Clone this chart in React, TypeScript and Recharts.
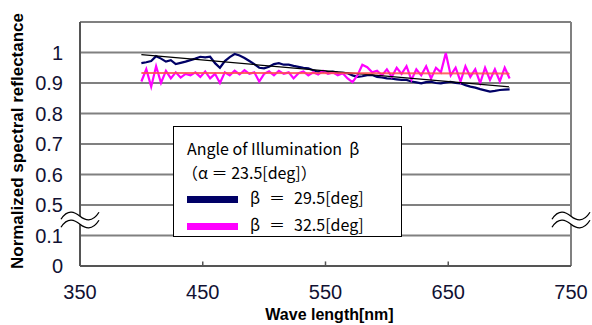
import React from 'react';
import {
  LineChart,
  Line,
  XAxis,
  YAxis,
  CartesianGrid,
  ReferenceLine,
  ReferenceDot
} from 'recharts';

// wavelength [nm]
const WAVELENGTHS = [
  400, 404, 408, 412, 416, 420, 424, 428, 432, 436, 440, 444, 448, 452, 456, 460, 464, 468, 472, 476,
  480, 484, 488, 492, 496, 500, 504, 508, 512, 516, 520, 524, 528, 532, 536, 540, 544, 548, 552, 556,
  560, 564, 568, 572, 576, 580, 584, 588, 592, 596, 600, 604, 608, 612, 616, 620, 624, 628, 632, 636,
  640, 644, 648, 652, 656, 660, 664, 668, 672, 676, 680, 684, 688, 692, 696, 700
];

// beta = 29.5 deg
const BETA_295 = [
  0.965, 0.968, 0.972, 0.988, 0.980, 0.970, 0.975, 0.962, 0.966, 0.970, 0.975, 0.980, 0.986, 0.984, 0.986, 0.965, 0.950, 0.972, 0.985, 0.995,
  0.990, 0.982, 0.972, 0.962, 0.950, 0.948, 0.953, 0.962, 0.965, 0.960, 0.960, 0.956, 0.953, 0.950, 0.948, 0.942, 0.937, 0.938, 0.936, 0.937,
  0.934, 0.933, 0.932, 0.925, 0.920, 0.922, 0.926, 0.926, 0.920, 0.918, 0.915, 0.914, 0.912, 0.910, 0.910, 0.905, 0.902, 0.899, 0.903, 0.904,
  0.900, 0.899, 0.902, 0.904, 0.900, 0.899, 0.893, 0.888, 0.885, 0.880, 0.876, 0.872, 0.874, 0.877, 0.878, 0.879
];

// beta = 32.5 deg
const BETA_325 = [
  0.905, 0.945, 0.888, 0.955, 0.900, 0.940, 0.915, 0.935, 0.918, 0.930, 0.925, 0.935, 0.920, 0.938, 0.915, 0.930, 0.900, 0.935, 0.925, 0.940,
  0.928, 0.942, 0.930, 0.935, 0.905, 0.930, 0.938, 0.925, 0.940, 0.930, 0.935, 0.915, 0.932, 0.938, 0.925, 0.935, 0.928, 0.940, 0.930, 0.935,
  0.925, 0.932, 0.915, 0.903, 0.925, 0.960, 0.952, 0.935, 0.940, 0.925, 0.945, 0.920, 0.950, 0.930, 0.955, 0.910, 0.945, 0.925, 0.955, 0.915,
  0.950, 0.935, 0.998, 0.925, 0.950, 0.905, 0.955, 0.920, 0.945, 0.900, 0.950, 0.910, 0.945, 0.905, 0.950, 0.915
];

// linear fits (start, end)
const FIT_295 = [0.993, 0.887];
const FIT_325 = [0.933, 0.931];

const X_TICKS = [350, 450, 550, 650, 750];
const Y_TICKS = [0.3, 0.4, 0.5, 0.6, 0.7, 0.8, 0.9, 1.0, 1.1];
// axis is broken between 0.1 and 0.5
const Y_LABELS: Record<string, string> = {
  '0.3': '0', '0.4': '0.1', '0.5': '0.5', '0.6': '0.6', '0.7': '0.7',
  '0.8': '0.8', '0.9': '0.9', '1': '1', '1.1': ''
};

const last = WAVELENGTHS.length - 1;
const rows = WAVELENGTHS.map((wl, i) => ({
  wl,
  b295: BETA_295[i],
  b325: BETA_325[i],
  fit295: i === 0 ? FIT_295[0] : i === last ? FIT_295[1] : null,
  fit325: i === 0 ? FIT_325[0] : i === last ? FIT_325[1] : null
}));

const TICK_FONT = '"Liberation Sans Narrow", "Arial Narrow", "Liberation Sans", sans-serif';
const LEGEND_FONT = '"Noto Sans CJK JP", "Noto Sans", sans-serif';

const BreakMark = (props: any) => {
  const { cx, cy } = props;
  const wave = (dy: number) =>
    `M${cx - 19},${cy + dy + 3} C${cx - 12},${cy + dy - 8} ${cx - 5},${cy + dy - 4} ${cx},${cy + dy} S${cx + 12},${cy + dy + 7} ${cx + 19},${cy + dy - 4}`;
  return (
    <g>
      <path d={wave(0)} stroke="#fff" strokeWidth={7} fill="none" />
      <path d={wave(-4)} stroke="#000" strokeWidth={1.3} fill="none" />
      <path d={wave(4)} stroke="#000" strokeWidth={1.3} fill="none" />
    </g>
  );
};

const LegendRow = ({ color, top, value }: { color: string; top: number; value: string }) => (
  <div style={{ position: 'absolute', left: 13, top, height: 22, lineHeight: '22px' }}>
    <span style={{ display: 'inline-block', width: 51, height: 7, background: color, marginRight: 12, verticalAlign: 'middle' }} />
    <span>β</span>
    <span style={{ display: 'inline-block', width: 34, textAlign: 'center' }}>＝</span>
    <span>{value}</span>
  </div>
);

export default function App() {
  return (
    <div style={{ position: 'absolute', left: 0, top: 0, width: 592, height: 325, background: '#fff' }}>
      <LineChart width={592} height={325} data={rows} margin={{ top: 22, right: 21, bottom: 0, left: 0 }}>
        <CartesianGrid horizontal vertical={false} stroke="#808080" strokeWidth={2} />
        <XAxis
          dataKey="wl"
          type="number"
          domain={[350, 750]}
          ticks={X_TICKS}
          height={59}
          tickLine={false}
          tickSize={0}
          tickMargin={19}
          axisLine={{ stroke: '#555', strokeWidth: 2 }}
          tick={{ fontFamily: TICK_FONT, fontSize: 20, fill: '#111133' }}
          label={{
            content: ({ viewBox }: any) => (
              <text
                x={viewBox.x + viewBox.width / 2 + 4}
                y={viewBox.y + 54}
                textAnchor="middle"
                fontFamily='"Liberation Sans", Arial, sans-serif'
                fontWeight="bold"
                fontSize={16}
                fill="#000"
              >
                Wave length[nm]
              </text>
            )
          }}
        />
        <YAxis
          type="number"
          domain={[0.3, 1.1]}
          ticks={Y_TICKS}
          width={80}
          tickLine={false}
          tickSize={0}
          tickMargin={17}
          axisLine={{ stroke: '#555', strokeWidth: 2 }}
          tickFormatter={(v: number) => Y_LABELS[String(Math.round(v * 10) / 10)] ?? ''}
          tick={{ fontFamily: TICK_FONT, fontSize: 20, fill: '#111133' }}
          label={{
            content: ({ viewBox }: any) => {
              const x = 23;
              const y = viewBox.y + viewBox.height / 2 - 3;
              return (
                <text
                  x={x}
                  y={y}
                  transform={`rotate(-90 ${x} ${y})`}
                  textAnchor="middle"
                  fontFamily={TICK_FONT}
                  fontWeight="bold"
                  fontSize={17}
                  fill="#000"
                >
                  Normalized spectral reflectance
                </text>
              );
            }
          }}
        />
        <ReferenceLine x={750} stroke="#808080" strokeWidth={2} ifOverflow="visible" />
        {[450, 550, 650].map((t) => (
          <ReferenceLine key={t} segment={[{ x: t, y: 0.3 }, { x: t, y: 0.315 }]} stroke="#555" strokeWidth={1.5} />
        ))}
        <Line dataKey="b295" stroke="#000066" strokeWidth={2.2} dot={false} isAnimationActive={false} />
        <Line dataKey="b325" stroke="#ff00ff" strokeWidth={2.2} dot={false} isAnimationActive={false} />
        <Line dataKey="fit295" stroke="#000" strokeWidth={1.2} dot={false} connectNulls isAnimationActive={false} />
        <Line dataKey="fit325" stroke="#ff4d4d" strokeWidth={2} strokeOpacity={0.85} dot={false} connectNulls isAnimationActive={false} />
        <ReferenceDot x={350} y={0.45} r={0} ifOverflow="visible" shape={BreakMark} />
        <ReferenceDot x={750} y={0.45} r={0} ifOverflow="visible" shape={BreakMark} />
      </LineChart>
      <div
        style={{
          position: 'absolute',
          left: 173,
          top: 126,
          width: 229,
          height: 111,
          border: '1px solid #000',
          background: '#fff',
          fontFamily: LEGEND_FONT,
          fontSize: 16,
          color: '#000',
          boxSizing: 'border-box',
          whiteSpace: 'pre'
        }}
      >
        <div style={{ position: 'absolute', left: 13, top: 10, lineHeight: '22px' }}>Angle of Illumination  β</div>
        <div style={{ position: 'absolute', left: 8, top: 34, lineHeight: '22px' }}>（α ＝ 23.5[deg]）</div>
        <LegendRow color="#000066" top={59} value="29.5[deg]" />
        <LegendRow color="#ff00ff" top={86} value="32.5[deg]" />
      </div>
    </div>
  );
}
